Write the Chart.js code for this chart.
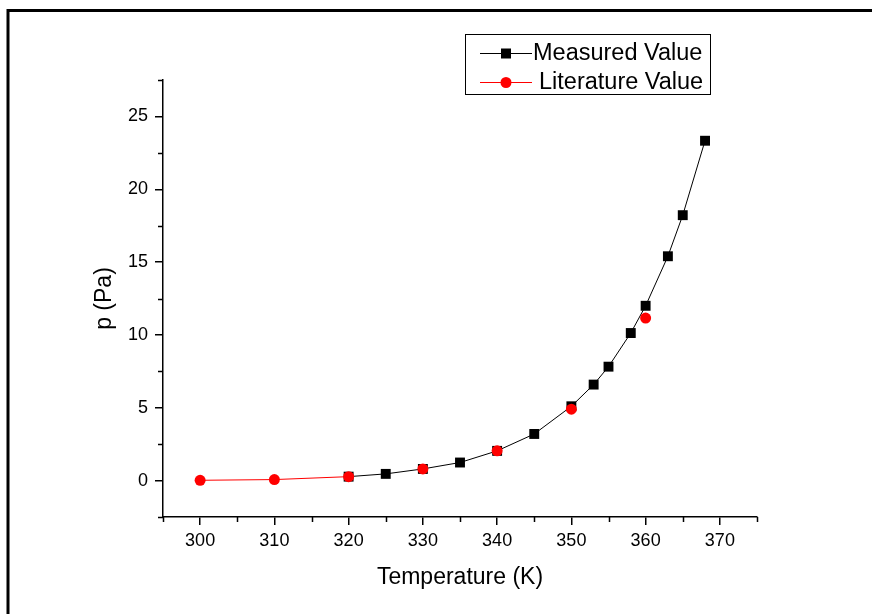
<!DOCTYPE html>
<html>
<head>
<meta charset="utf-8">
<script src="https://cdn.jsdelivr.net/npm/chart.js@4/dist/chart.umd.min.js"></script>
<style>
  html, body { margin: 0; padding: 0; background: #fff; }
  #wrap { width: 872px; height: 614px; }
</style>
</head>
<body>
<div id="wrap"><canvas id="chart" width="872" height="614"></canvas></div>
<script>
// Measured vapour pressure
const measuredT = [320, 325, 330, 335, 340, 345, 350, 353, 355, 358, 360, 363, 365, 368];
const measuredP = [0.27, 0.46, 0.80, 1.24, 2.04, 3.20, 5.10, 6.59, 7.82, 10.13, 12.0, 15.40, 18.22, 23.33];

// Literature values
const literatureT = [300, 310, 320, 330, 340, 350, 360];
const literatureP = [0.02, 0.07, 0.27, 0.80, 2.04, 4.90, 11.16];

// Axis ticks
const xTicks = [300, 310, 320, 330, 340, 350, 360, 370];
const xMinor = [295, 305, 315, 325, 335, 345, 355, 365, 375];
const yTicks = [0, 5, 10, 15, 20, 25];
const yMinor = [-2.5, 2.5, 7.5, 12.5, 17.5, 22.5, 27.5];

const FONT = '"Liberation Sans", Arial, sans-serif';

function toPoints(xs, ys) {
  return xs.map((x, i) => ({ x: x, y: ys[i] }));
}

// the red line only shows where there is no black one over it
const literatureLine = toPoints(literatureT, literatureP).filter(p => p.x <= measuredT[0]);

// white page and the frame on the left / top
const framePlugin = {
  id: 'frame',
  beforeDraw(chart) {
    const ctx = chart.ctx;
    ctx.save();
    ctx.fillStyle = '#fff';
    ctx.fillRect(0, 0, chart.width, chart.height);
    ctx.strokeStyle = '#000';
    ctx.lineWidth = 3;
    ctx.beginPath();
    ctx.moveTo(8, chart.height);
    ctx.lineTo(8, 10.5);
    ctx.lineTo(chart.width, 10.5);
    ctx.stroke();
    ctx.restore();
  }
};

// short minor ticks outside the axes
const minorTicks = {
  id: 'minorTicks',
  afterDraw(chart) {
    const ctx = chart.ctx;
    const xs = chart.scales.x, ys = chart.scales.y;
    ctx.save();
    ctx.strokeStyle = '#000';
    ctx.lineWidth = 1.5;
    ctx.beginPath();
    xMinor.forEach(v => {
      const px = Math.round(xs.getPixelForValue(v)) + 0.5;
      ctx.moveTo(px, xs.top);
      ctx.lineTo(px, xs.top + 5);
    });
    yMinor.forEach(v => {
      const py = Math.round(ys.getPixelForValue(v)) + 0.5;
      ctx.moveTo(ys.right, py);
      ctx.lineTo(ys.right - 5, py);
    });
    ctx.stroke();
    ctx.restore();
  }
};

// boxed legend with line + marker samples
const boxLegend = {
  id: 'boxLegend',
  afterDraw(chart) {
    const ctx = chart.ctx;
    const rows = [
      { ds: chart.data.datasets[1], y: 53, textX: 533 },
      { ds: chart.data.datasets[0], y: 82, textX: 539 }
    ];
    ctx.save();
    ctx.strokeStyle = '#000';
    ctx.lineWidth = 1;
    ctx.strokeRect(465.5, 34.5, 245, 60);
    rows.forEach(r => {
      const color = r.ds.pointBackgroundColor;
      ctx.strokeStyle = color;
      ctx.lineWidth = 1;
      ctx.beginPath();
      ctx.moveTo(480, r.y + 0.5);
      ctx.lineTo(532, r.y + 0.5);
      ctx.stroke();
      ctx.fillStyle = color;
      if (r.ds.pointStyle === 'rect') {
        ctx.fillRect(501, r.y - 4.5, 10, 10);
      } else {
        ctx.beginPath();
        ctx.arc(506, r.y + 0.5, 5.5, 0, Math.PI * 2);
        ctx.fill();
      }
      ctx.fillStyle = '#000';
      ctx.font = '23.5px ' + FONT;
      ctx.textBaseline = 'middle';
      ctx.textAlign = 'left';
      ctx.fillText(r.ds.label, r.textX, r.y + 1);
    });
    ctx.restore();
  }
};

const ctx = document.getElementById('chart').getContext('2d');
new Chart(ctx, {
  type: 'scatter',
  data: {
    datasets: [
      {
        // red markers, drawn on top
        label: 'Literature Value',
        data: toPoints(literatureT, literatureP),
        showLine: false,
        pointStyle: 'circle',
        pointRadius: 5.5,
        pointBorderWidth: 0,
        pointBackgroundColor: '#ff0000'
      },
      {
        label: 'Measured Value',
        data: toPoints(measuredT, measuredP),
        showLine: true,
        borderColor: '#000',
        borderWidth: 1,
        tension: 0,
        pointStyle: 'rect',
        pointRadius: 7,
        pointBorderWidth: 0,
        pointBackgroundColor: '#000'
      },
      {
        // red connecting line, under the black one
        label: 'Literature Line',
        data: literatureLine,
        showLine: true,
        borderColor: '#ff0000',
        borderWidth: 1,
        tension: 0,
        pointRadius: 0
      }
    ]
  },
  options: {
    responsive: false,
    animation: false,
    layout: { padding: { top: 80, right: 115, left: 0, bottom: 0 } },
    plugins: {
      legend: { display: false },
      tooltip: { enabled: false }
    },
    scales: {
      x: {
        type: 'linear',
        min: 295,
        max: 375,
        afterBuildTicks: s => { s.ticks = xTicks.map(v => ({ value: v })); },
        afterFit: s => { s.height = 97; },
        grid: { drawOnChartArea: false, color: '#000', lineWidth: 1.5, tickLength: 8 },
        border: { color: '#000', width: 1.5 },
        ticks: { color: '#000', padding: 5, font: { family: FONT, size: 18 } },
        title: {
          display: true,
          text: 'Temperature (K)',
          color: '#000',
          font: { family: FONT, size: 23 },
          padding: { top: 0, bottom: 23 }
        }
      },
      y: {
        type: 'linear',
        min: -2.5,
        max: 27.5,
        afterBuildTicks: s => { s.ticks = yTicks.map(v => ({ value: v })); },
        afterFit: s => { s.width = 163; },
        grid: { drawOnChartArea: false, color: '#000', lineWidth: 1.5, tickLength: 8 },
        border: { color: '#000', width: 1.5 },
        ticks: { color: '#000', padding: 7, font: { family: FONT, size: 18 } },
        title: {
          display: true,
          text: 'p (Pa)',
          color: '#000',
          font: { family: FONT, size: 23 },
          padding: { top: 91, bottom: 0 }
        }
      }
    }
  },
  plugins: [framePlugin, minorTicks, boxLegend]
});
</script>
</body>
</html>
